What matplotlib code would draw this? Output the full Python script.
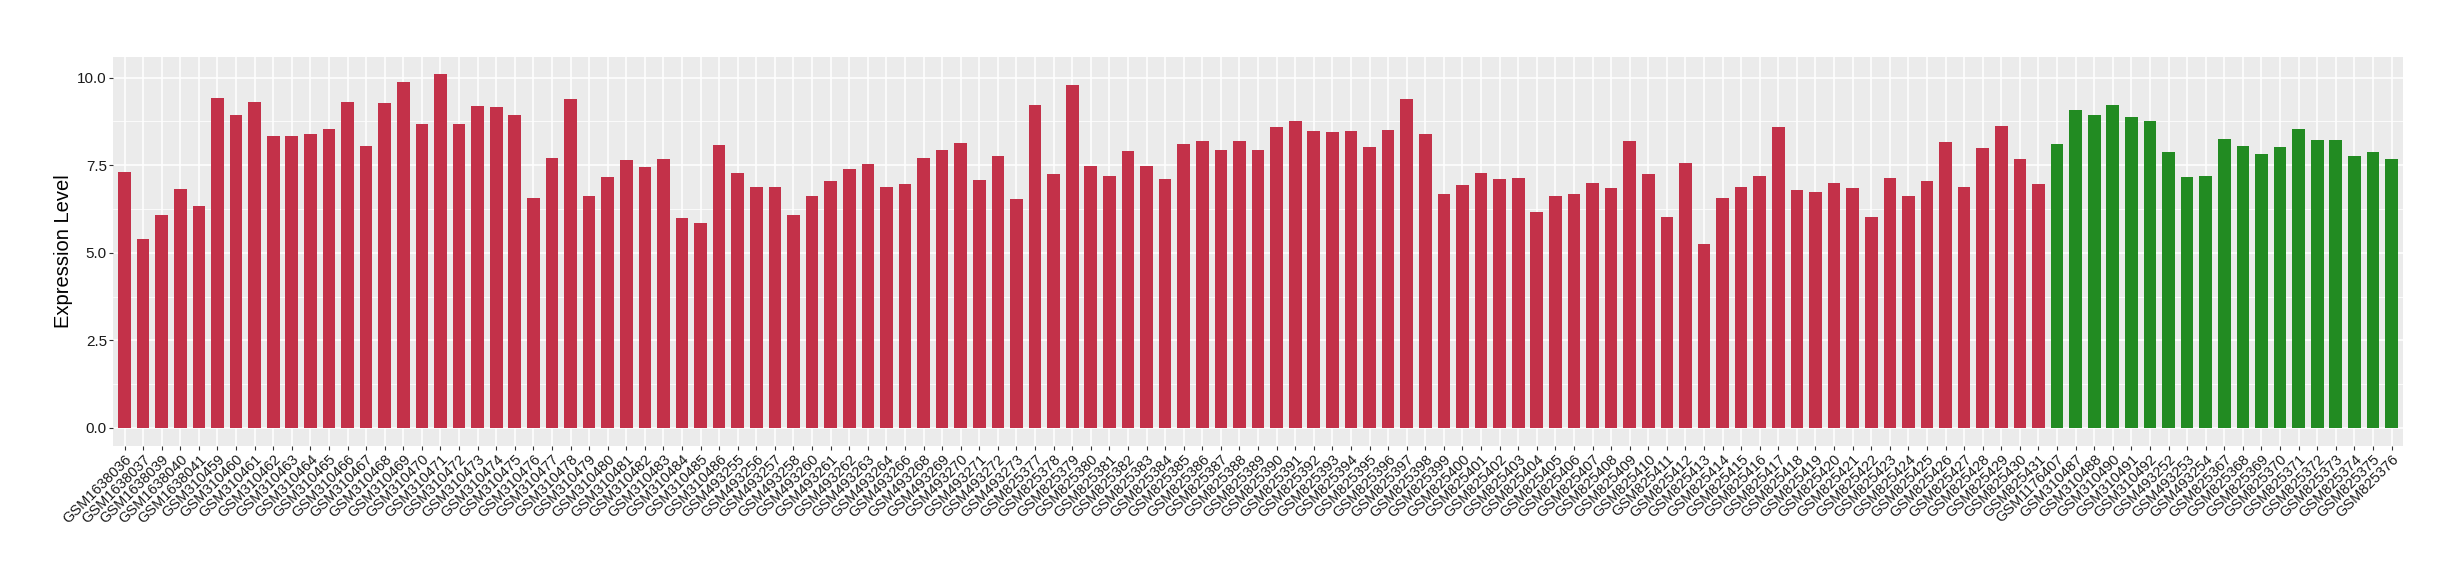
import matplotlib
matplotlib.use("Agg")
import matplotlib.pyplot as plt
from matplotlib.ticker import MultipleLocator

# sample ids, in plot order
red_samples = (
    ["GSM16380" + s for s in ["36", "37", "39", "40", "41"]]
    + ["GSM3104" + str(n) for n in range(59, 87)]
    + ["GSM493" + s for s in ["255", "256", "257", "258", "260", "261", "262", "263",
                              "264", "266", "268", "269", "270", "271", "272", "273"]]
    + ["GSM825" + str(n) for n in range(377, 432)]
)
green_samples = (
    ["GSM1176407", "GSM310487", "GSM310488", "GSM310490", "GSM310491", "GSM310492",
     "GSM493252", "GSM493253", "GSM493254"]
    + ["GSM825" + str(n) for n in range(367, 377)]
)

red_values = [
    7.30, 5.39, 6.09, 6.82, 6.34, 9.41, 8.93, 9.30, 8.33, 8.33,
    8.39, 8.53, 9.30, 8.04, 9.27, 9.87, 8.67, 10.09, 8.67, 9.18,
    9.15, 8.93, 6.56, 7.70, 9.38, 6.62, 7.16, 7.64, 7.45, 7.67,
    5.99, 5.85, 8.07, 7.27, 6.88, 6.88, 6.08, 6.62, 7.05, 7.39,
    7.53, 6.88, 6.96, 7.70, 7.93, 8.13, 7.08, 7.76, 6.53, 9.21,
    7.25, 9.78, 7.47, 7.19, 7.90, 7.47, 7.10, 8.10, 8.19, 7.93,
    8.19, 7.93, 8.58, 8.76, 8.47, 8.44, 8.47, 8.02, 8.50, 9.38,
    8.39, 6.68, 6.93, 7.27, 7.10, 7.13, 6.16, 6.62, 6.68, 6.99,
    6.85, 8.19, 7.25, 6.02, 7.56, 5.25, 6.56, 6.88, 7.19, 8.58,
    6.79, 6.73, 6.99, 6.85, 6.02, 7.13, 6.62, 7.05, 8.16, 6.88,
    7.99, 8.61, 7.67, 6.96,
]
green_values = [
    8.10, 9.07, 8.93, 9.21, 8.87, 8.76, 7.87, 7.16, 7.19, 8.24,
    8.04, 7.82, 8.02, 8.53, 8.21, 8.21, 7.76, 7.87, 7.67,
]

samples = red_samples + green_samples
values = red_values + green_values
colors = ["#C33149"] * len(red_values) + ["#228B22"] * len(green_values)

plt.rcParams["font.family"] = ["Liberation Sans", "DejaVu Sans"]

fig = plt.figure(figsize=(24.6, 5.8), dpi=100)
ax = fig.add_axes([0.0461, 0.2316, 0.9306, 0.6706])

x = list(range(len(samples)))
ax.bar(x, values, width=0.68, color=colors, zorder=3)

ax.set_facecolor("#EBEBEB")
ax.set_xlim(-0.6, len(samples) - 0.4)
top = max(values)
ax.set_ylim(-0.05 * top, top * 1.05)
ax.yaxis.set_major_locator(MultipleLocator(2.5))
ax.yaxis.set_minor_locator(MultipleLocator(1.25))
ax.yaxis.set_major_formatter(matplotlib.ticker.FormatStrFormatter("%.1f"))

ax.grid(which="major", color="white", linewidth=1.1, zorder=0)
ax.grid(which="minor", axis="y", color="white", linewidth=0.55, zorder=0)
ax.set_axisbelow(True)

ax.set_xticks(x)
ax.set_xticklabels(samples, rotation=45, ha="right", rotation_mode="anchor", fontsize=10.5)
ax.tick_params(axis="both", which="major", length=2.7, width=0.8, color="#333333",
               labelcolor="#1A1A1A", pad=2)
ax.tick_params(axis="y", labelsize=11)
ax.tick_params(axis="y", which="minor", length=0)

for spine in ax.spines.values():
    spine.set_visible(False)

ax.set_ylabel("Expression Level", fontsize=14.5, labelpad=3)

fig.savefig("out.png", dpi=100)
